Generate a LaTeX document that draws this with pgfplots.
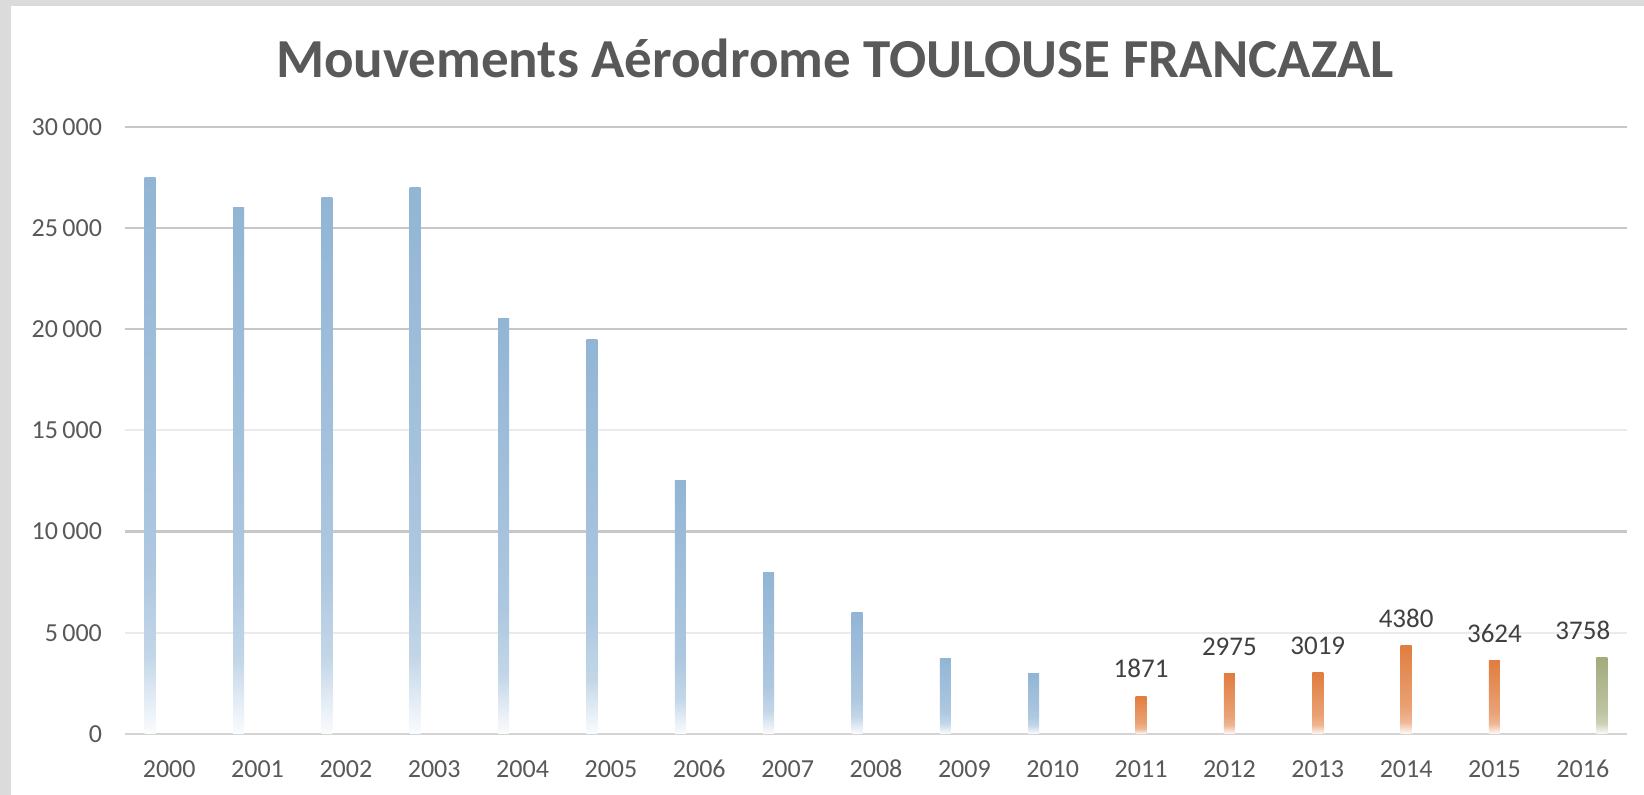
\documentclass[border=0pt]{standalone}
\usepackage{fontspec}
\setmainfont{Carlito}
\usepackage{pgfplots}
\pgfplotsset{compat=1.18}
\definecolor{bl}{HTML}{92B5D5}
\definecolor{orx}{HTML}{E17D3F}
\definecolor{gr}{HTML}{A2AC7D}
\definecolor{txt}{HTML}{595959}
\definecolor{lab}{HTML}{404040}
\pgfdeclareverticalshading{blsh}{100bp}{color(0bp)=(white); color(25bp)=(bl!4); color(28bp)=(bl!25); color(32bp)=(bl!55); color(40bp)=(bl!75); color(75bp)=(bl); color(100bp)=(bl)}
\pgfdeclareverticalshading{orsh}{100bp}{color(0bp)=(white); color(25bp)=(orx!4); color(28bp)=(orx!25); color(32bp)=(orx!55); color(40bp)=(orx!72); color(75bp)=(orx); color(100bp)=(orx)}
\pgfdeclareverticalshading{grsh}{100bp}{color(0bp)=(white); color(25bp)=(gr!4); color(28bp)=(gr!25); color(32bp)=(gr!55); color(40bp)=(gr!72); color(75bp)=(gr); color(100bp)=(gr)}
\pgfplotsset{/pgf/number format/assume math mode=true}
\pgfplotsset{
  bbar/.style={ybar, bar width=5.5pt, bar shift=-9.5pt, draw=none, shade, shading=blsh},
  obar/.style={ybar, bar width=5.5pt, bar shift=0pt, draw=none, shade, shading=orsh,
    nodes near coords={\pgfmathprintnumber[fixed,1000 sep={}]{\pgfplotspointmeta}},
    every node near coord/.append style={font=\fontsize{13.5}{16}\selectfont, text=lab, anchor=south, yshift=5.5pt}},
  gbar/.style={ybar, bar width=5.5pt, bar shift=9.5pt, draw=none, shade, shading=grsh,
    nodes near coords={\pgfmathprintnumber[fixed,1000 sep={}]{\pgfplotspointmeta}},
    every node near coord/.append style={font=\fontsize{13.5}{16}\selectfont, text=lab, anchor=south, yshift=5.5pt}},
}
\begin{document}
\begin{tikzpicture}
\fill[black!14] (0,0) rectangle (822pt,397.5pt);
\fill[white] (5.5pt,0) rectangle (822pt,394.5pt);
\useasboundingbox (0,0) rectangle (822pt,397.5pt);
\node[font=\bfseries\fontsize{27.5}{32}\selectfont, text=txt, anchor=base] at (417.5pt,358.5pt) {Mouvements Aérodrome TOULOUSE FRANCAZAL};
\begin{axis}[
  at={(62.5pt,30.5pt)}, anchor=south west,
  scale only axis, width=751pt, height=303.65pt,
  xmin=-0.5, xmax=16.5, ymin=0, ymax=30000,
  clip=false,
  axis x line*=bottom, axis y line*=left,
  x axis line style={-, draw=black!17, line width=1.1pt},
  y axis line style={draw=none},
  xtick={0,1,2,3,4,5,6,7,8,9,10,11,12,13,14,15,16},
  xticklabels={2000,2001,2002,2003,2004,2005,2006,2007,2008,2009,2010,2011,2012,2013,2014,2015,2016},
  ytick={10000,20000,25000,30000},
  minor ytick={5000,15000},
  extra y ticks={0,5000,15000},
  extra y tick style={grid=none},
  ymajorgrids, yminorgrids,
  major grid style={draw=black!22, line width=1.1pt},
  minor grid style={draw=black!8, line width=1.1pt},
  major tick length=0pt, minor tick length=0pt,
  scaled y ticks=false,
  /pgf/number format/fixed,
  /pgf/number format/1000 sep={\,},
  tick label style={font=\fontsize{13}{15}\selectfont, text=txt},
  xticklabel style={anchor=base, yshift=-21.8pt},
  yticklabel style={xshift=-8pt},
]
\addplot[bbar] coordinates {(0,27500)};
\addplot[bbar] coordinates {(1,26000)};
\addplot[bbar] coordinates {(2,26500)};
\addplot[bbar] coordinates {(3,27000)};
\addplot[bbar] coordinates {(4,20500)};
\addplot[bbar] coordinates {(5,19500)};
\addplot[bbar] coordinates {(6,12500)};
\addplot[bbar] coordinates {(7,8000)};
\addplot[bbar] coordinates {(8,6000)};
\addplot[bbar] coordinates {(9,3750)};
\addplot[bbar] coordinates {(10,3000)};
\addplot[obar] coordinates {(11,1871)};
\addplot[obar] coordinates {(12,2975)};
\addplot[obar] coordinates {(13,3019)};
\addplot[obar] coordinates {(14,4380)};
\addplot[obar] coordinates {(15,3624)};
\addplot[gbar] coordinates {(16,3758)};
\end{axis}
\end{tikzpicture}
\end{document}
